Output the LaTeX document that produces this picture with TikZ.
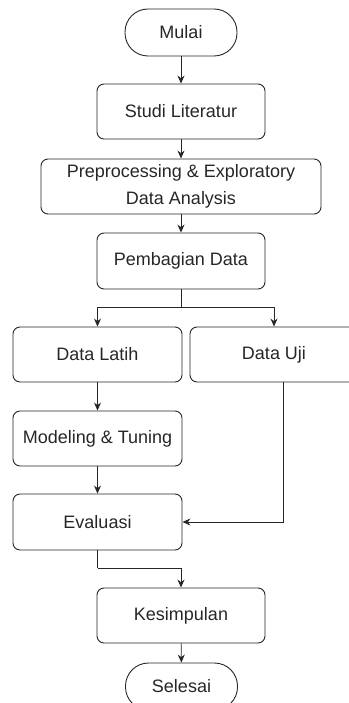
\documentclass[tikz,border=0pt]{standalone}
\usepackage{fontspec}
\setmainfont{Liberation Sans}
\usepackage{tikz}
\usetikzlibrary{calc,arrows.meta}

\begin{document}
\begin{tikzpicture}[
			x=1pt, y=-1pt, >={Stealth[length=8pt,width=7pt]},
			box/.style={draw=black!85, text=black!85, rounded corners=7pt, align=center,
				minimum width=168pt, minimum height=55pt, inner sep=0pt, line width=0.9pt,
				font=\fontsize{18}{26.7}\selectfont},
			terminal/.style={box, rounded corners=23pt, minimum width=112pt, minimum height=47pt},
			link/.style={->, draw=black!85, line width=0.9pt},
			wire/.style={draw=black!85, line width=0.9pt}
			]
			% ukuran gambar
			\useasboundingbox (0,0) rectangle (348,703);
			
			% alur utama
			\node[terminal] (mulai) at (181,32.5) {Mulai};
			\node[box] (studi) at (181,111.5) {Studi Literatur};
			\node[box, minimum width=280pt] (prep) at (181,186.5) {Preprocessing \& Exploratory\\Data Analysis};
			\node[box, minimum height=56pt] (bagi) at (181,261) {Pembagian Data};
			
			% cabang data
			\node[box, minimum width=169pt] (latih) at (97.5,354.5) {Data Latih};
			\node[box] (uji) at (274,354.5) {Data Uji};
			\node[box, minimum width=169pt] (model) at (97.5,438.5) {Modeling \& Tuning};
			\node[box, minimum width=169pt, minimum height=56pt] (eval) at (97.5,522) {Evaluasi};
			
			% penutup
			\node[box] (simpul) at (181,615.5) {Kesimpulan};
			\node[terminal] (selesai) at (181.5,686.5) {Selesai};
			
			% titik bantu
			\coordinate (split) at (181,307);
			\coordinate (ujiout) at ([xshift=9pt]uji.south);
			\coordinate (evalbend) at (97.5,568);
			
			% panah
			\draw[link] (mulai) -- (studi);
			\draw[link] (studi) -- (prep);
			\draw[link] (prep) -- (bagi);
			\draw[wire] (bagi) -- (split);
			\draw[link] (split) -| (latih);
			\draw[link] (split) -| (uji);
			\draw[link] (latih) -- (model);
			\draw[link] (model) -- (eval);
			\draw[link] (ujiout) |- (eval.east);
			\draw[wire] (eval) -- (evalbend);
			\draw[link] (evalbend) -| (simpul);
			\draw[link] (simpul) -- (selesai);
			
		\end{tikzpicture}
\end{document}
